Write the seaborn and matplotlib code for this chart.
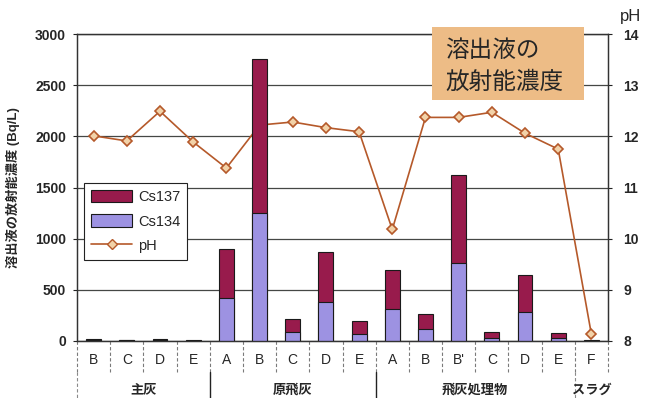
import numpy as np
import pandas as pd
import matplotlib
matplotlib.use("Agg")
import matplotlib.pyplot as plt
from matplotlib.patches import Patch, Rectangle
from matplotlib.lines import Line2D
from matplotlib.transforms import blended_transform_factory
import seaborn as sns

# ---- data -------------------------------------------------------------
groups = ["主灰"] * 4 + ["原飛灰"] * 5 + ["飛灰処理物"] * 6 + ["スラグ"]
samples = ["B", "C", "D", "E",
           "A", "B", "C", "D", "E",
           "A", "B", "B'", "C", "D", "E",
           "F"]
cs134 = [10, 5, 10, 4, 420, 1255, 85, 380, 70, 310, 115, 765, 30, 280, 30, 4]
cs137 = [10, 5, 10, 4, 480, 1500, 130, 490, 125, 380, 150, 855, 55, 365, 45, 4]
ph = [12.01, 11.91, 12.49, 11.89, 11.38, 12.22, 12.28, 12.17, 12.09,
      10.18, 12.37, 12.37, 12.47, 12.06, 11.75, 8.13]
group_names = ["主灰", "原飛灰", "飛灰処理物", "スラグ"]
left_ticks = [0, 500, 1000, 1500, 2000, 2500, 3000]
right_ticks = [8, 9, 10, 11, 12, 13, 14]

# ---- style ------------------------------------------------------------
sns.set_theme(style="white")
plt.rcParams["font.family"] = ["Liberation Sans", "Noto Sans CJK JP", "DejaVu Sans"]
plt.rcParams["axes.unicode_minus"] = False

C137 = "#981B4C"
C134 = "#9D92E2"
LINE = "#B5592A"
BG = "#BCBEBB"
GRID = "#454745"

df = pd.DataFrame({
    "key": [f"{g}-{s}" for g, s in zip(groups, samples)],
    "group": groups,
    "sample": samples,
    "cs134": cs134,
    "cs137": cs137,
    "ph": ph,
})
df["total"] = df["cs134"] + df["cs137"]
df["pos"] = np.arange(len(df))
n = len(df)

fig = plt.figure(figsize=(6.53, 3.98), dpi=100)
ax = fig.add_axes([77 / 653, 1 - 341 / 398, 531 / 653, 307 / 398])
ax2 = ax.twinx()

# pH axis sits behind the bars and carries the background and grid
ax.set_zorder(2)
ax.patch.set_visible(False)
ax2.set_facecolor(BG)
ax2.set_ylim(8, 14)
ax2.set_yticks(right_ticks)
ax2.yaxis.grid(True, color=GRID, linewidth=0.9, zorder=0)
ax2.set_axisbelow(True)

sns.lineplot(data=df, x="pos", y="ph", ax=ax2, color=LINE, linewidth=1.2,
             marker="D", markersize=5.5, markerfacecolor="#F2D2A8",
             markeredgecolor=LINE, markeredgewidth=1.2, zorder=3)

# stacked bars: total (Cs137 on top) then Cs134 underneath
sns.barplot(data=df, x="key", y="total", ax=ax, color=C137, width=0.45,
            saturation=1, edgecolor="#1a1a1a", linewidth=0.8)
sns.barplot(data=df, x="key", y="cs134", ax=ax, color=C134, width=0.45,
            saturation=1, edgecolor="#1a1a1a", linewidth=0.8)

ax.set_xlim(-0.5, n - 0.5)
ax.set_ylim(0, 3000)
ax.set_yticks(left_ticks)
ax.set_xlabel("")
ax2.set_xlabel("")
ax2.set_ylabel("")
ax.set_xticks(range(n))
ax.set_xticklabels(samples)
ax.tick_params(axis="x", length=0, pad=9, labelsize=10)
ax.tick_params(axis="y", length=3, width=0.8, pad=5, labelsize=10,
               direction="out", color="#222222")
ax2.tick_params(axis="y", length=3, width=0.8, pad=8, labelsize=10,
                direction="out", color="#222222")
for lab in ax.get_yticklabels() + ax2.get_yticklabels():
    lab.set_fontweight("bold")
for a in (ax, ax2):
    for sp in a.spines.values():
        sp.set_color("#333333")
        sp.set_linewidth(0.9)

ax.set_ylabel("溶出液の放射能濃度 (Bq/L)", fontsize=9.5, fontweight="bold")
ax.yaxis.set_label_coords(-(77 - 20) / 531, 0.5)

fig.text(620 / 653, 1 - 17 / 398, "pH", fontsize=12, ha="left", va="center")

# category and group separators below the axis
trans = blended_transform_factory(ax.transData, ax.transAxes)
group_edges = [-0.5]
for i in range(1, n):
    if groups[i] != groups[i - 1]:
        group_edges.append(i - 0.5)
group_edges.append(n - 0.5)

for i in range(n + 1):
    x = i - 0.5
    ax.plot([x, x], [0, -0.10], transform=trans, clip_on=False,
            color="#7a7a7a", linewidth=0.8, linestyle=(0, (3, 2)))
solid_edges = group_edges[1:-2]
for x in group_edges[:-1]:
    if x in solid_edges:
        ax.plot([x, x], [-0.10, -0.185], transform=trans, clip_on=False,
                color="#222222", linewidth=1.0)
    else:
        ax.plot([x, x], [-0.10, -0.185], transform=trans, clip_on=False,
                color="#8a8a8a", linewidth=0.8, linestyle=(0, (3, 2)))

for g in group_names:
    idx = [i for i, gg in enumerate(groups) if gg == g]
    xc = (idx[0] + idx[-1]) / 2
    ax.text(xc, -0.16, g, transform=trans, ha="center", va="center",
            fontsize=9.5, fontweight="bold")

# legend
handles = [
    Patch(facecolor=C137, edgecolor="#1a1a1a", linewidth=0.8, label="Cs137"),
    Patch(facecolor=C134, edgecolor="#1a1a1a", linewidth=0.8, label="Cs134"),
    Line2D([0], [0], color=LINE, linewidth=1.2, marker="D", markersize=5.5,
           markerfacecolor="#F2D2A8", markeredgecolor=LINE, label="pH"),
]
leg = ax.legend(handles=handles, loc="upper left",
                bbox_to_anchor=(0.013, 0.515), borderaxespad=0,
                fontsize=10.5, frameon=True,
                fancybox=False, framealpha=1, edgecolor="#222222",
                handlelength=2.8, handleheight=0.9, borderpad=0.5,
                labelspacing=0.7, handletextpad=0.4)
leg.get_frame().set_linewidth(0.8)

# title panel
fig.patches.append(Rectangle((432 / 653, 1 - 100 / 398), 152 / 653, 73 / 398,
                             transform=fig.transFigure, facecolor="#EDBC86",
                             edgecolor="none", zorder=5))
fig.text(445 / 653, 1 - 50 / 398, "溶出液の", fontsize=17, ha="left",
         va="center", zorder=6, family=["Noto Sans CJK JP"])
fig.text(445 / 653, 1 - 82 / 398, "放射能濃度", fontsize=17, ha="left",
         va="center", zorder=6, family=["Noto Sans CJK JP"])

fig.savefig("out.png", dpi=100)
